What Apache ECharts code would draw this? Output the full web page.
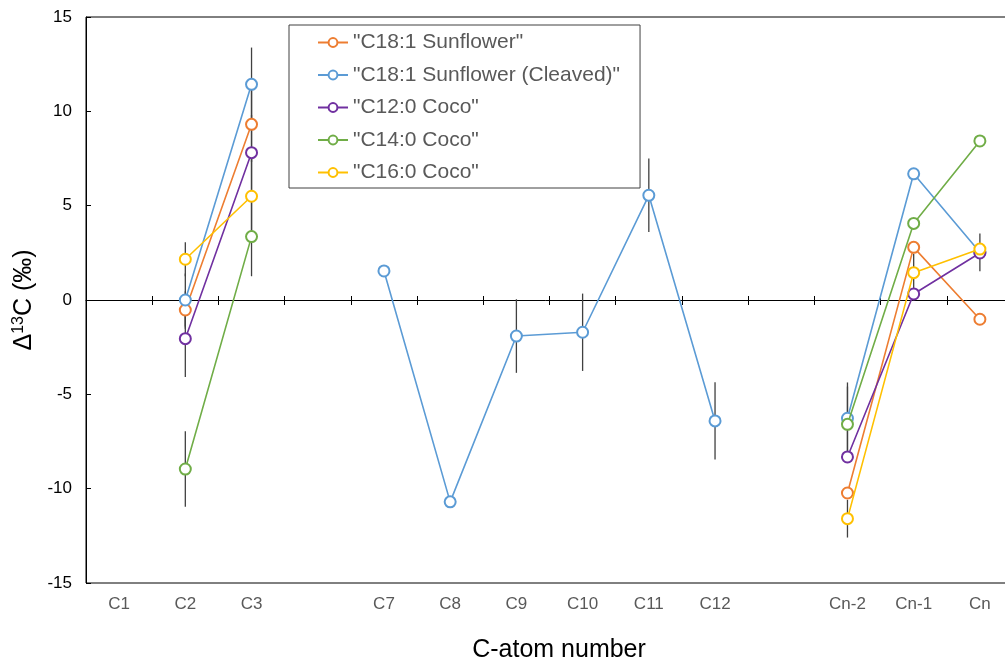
<!DOCTYPE html>
<html>
<head>
<meta charset="utf-8">
<script src="https://cdn.jsdelivr.net/npm/echarts@6/dist/echarts.min.js"></script>
<style>
  html, body { margin: 0; padding: 0; background: #fff; }
  #chart { width: 1005px; height: 665px; }
</style>
</head>
<body>
<div id="chart"></div>
<script>
// ---- data ----
const categories = ['C1', 'C2', 'C3', '', 'C7', 'C8', 'C9', 'C10', 'C11', 'C12', ' ', 'Cn-2', 'Cn-1', 'Cn'];
const seriesNames = ['"C18:1 Sunflower"', '"C18:1 Sunflower (Cleaved)"', '"C12:0 Coco"', '"C14:0 Coco"', '"C16:0 Coco"'];
const sunflower        = [null, -0.53, 9.31, null, null, null, null, null, null, null, null, -10.23, 2.79, -1.02];
const sunflowerCleaved = [null, 0.0, 11.43, null, 1.54, -10.7, -1.91, -1.71, 5.55, -6.41, null, -6.27, 6.69, 2.53];
const coco12           = [null, -2.05, 7.81, null, null, null, null, null, null, null, null, -8.32, 0.32, 2.49];
const coco14           = [null, -8.96, 3.36, null, null, null, null, null, null, null, null, -6.59, 4.06, 8.43];
const coco16           = [null, 2.16, 5.5, null, null, null, null, null, null, null, null, -11.59, 1.45, 2.70];
// error (± half-width) for each point
const sunflowerErr        = [null, 1.0, 2.0, null, null, null, null, null, null, null, null, 0.3, null, null];
const sunflowerCleavedErr = [null, 1.4, 1.95, null, null, null, 1.95, 2.05, 1.95, 2.05, null, 1.9, null, 1.0];
const coco12Err           = [null, 2.03, 2.0, null, null, null, null, null, null, null, null, 0.3, null, null];
const coco14Err           = [null, 2.0, 2.1, null, null, null, null, null, null, null, null, 2.0, null, null];
const coco16Err           = [null, 0.9, 2.0, null, null, null, null, null, null, null, null, 1.0, 1.0, null];
const yTicks = { min: -15, max: 15, interval: 5 };

const values = [sunflower, sunflowerCleaved, coco12, coco14, coco16];
const errors = [sunflowerErr, sunflowerCleavedErr, coco12Err, coco14Err, coco16Err];
const colors = ['#ED7D31', '#5B9BD5', '#7030A0', '#70AD47', '#FFC000'];

const errData = [];
values.forEach((vals, s) => {
  vals.forEach((v, i) => {
    const e = errors[s][i];
    if (v != null && e != null) errData.push([i, v - e, v + e]);
  });
});

const FONT = 'Liberation Sans, Arial, sans-serif';

const chart = echarts.init(document.getElementById('chart'));
const baseX = {
  type: 'category',
  data: categories,
  boundaryGap: true,
  axisLabel: { show: false },
  splitLine: { show: false }
};
const option = {
  animation: false,
  backgroundColor: '#fff',
  grid: {
    left: 86, top: 17, width: 927, height: 566,
    outerBoundsMode: 'none',
    show: true, borderColor: '#000', borderWidth: 1, containLabel: false
  },
  xAxis: [
    Object.assign({}, baseX, {
      position: 'bottom',
      axisLine: { show: false, onZero: false },
      axisTick: { show: false },
      axisLabel: { show: true, interval: 0, color: '#595959', fontSize: 17, fontFamily: FONT, margin: 13 }
    }),
    Object.assign({}, baseX, {
      position: 'bottom',
      axisLine: { show: true, onZero: true, onZeroAxisIndex: 0, lineStyle: { color: '#000', width: 1 } },
      axisTick: { show: true, interval: 0, length: 5, lineStyle: { color: '#000', width: 1 } }
    }),
    Object.assign({}, baseX, {
      position: 'top',
      axisLine: { show: false, onZero: true, onZeroAxisIndex: 0 },
      axisTick: { show: true, interval: 0, length: 4, lineStyle: { color: '#000', width: 1 } }
    })
  ],
  yAxis: {
    type: 'value',
    min: yTicks.min, max: yTicks.max, interval: yTicks.interval,
    axisLine: { show: true, onZero: false, lineStyle: { color: '#000', width: 1 } },
    axisTick: { show: true, inside: true, length: 5, lineStyle: { color: '#000' } },
    axisLabel: { color: '#000', fontSize: 17, fontFamily: FONT, margin: 14 },
    splitLine: { show: false }
  },
  legend: {
    orient: 'vertical',
    left: 289, top: 25,
    itemWidth: 30, itemHeight: 11, itemGap: 11.5,
    padding: [7, 20, 5, 28],
    borderColor: '#404040', borderWidth: 1, backgroundColor: '#fff',
    textStyle: { fontSize: 21, lineHeight: 21, color: '#595959', fontFamily: FONT },
    data: seriesNames
  },
  graphic: [
    {
      type: 'text', x: 24, y: 300, rotation: Math.PI / 2,
      style: {
        text: '{a|Δ}{s|13}{a|C (‰)}',
        rich: {
          a: { fontSize: 25, fontFamily: FONT, fill: '#000', lineHeight: 27 },
          s: { fontSize: 16, fontFamily: FONT, fill: '#000', verticalAlign: 'top', lineHeight: 27 }
        },
        align: 'center', verticalAlign: 'middle'
      }
    },
    {
      type: 'text', x: 559, y: 650,
      style: { text: 'C-atom number', fontSize: 25, fontFamily: FONT, fill: '#000', align: 'center', verticalAlign: 'middle' }
    }
  ],
  series: [
    {
      type: 'custom',
      name: 'errors',
      xAxisIndex: 0,
      z: 1,
      silent: true,
      encode: { x: 0, y: [1, 2] },
      renderItem: function (params, api) {
        const p1 = api.coord([api.value(0), api.value(1)]);
        const p2 = api.coord([api.value(0), api.value(2)]);
        return { type: 'line', shape: { x1: p1[0], y1: p1[1], x2: p2[0], y2: p2[1] }, style: { stroke: '#404040', lineWidth: 1.3 } };
      },
      data: errData
    }
  ].concat(values.map((vals, s) => ({
    type: 'line',
    name: seriesNames[s],
    xAxisIndex: 0,
    data: vals,
    z: 2 + s,
    connectNulls: false,
    symbol: 'emptyCircle',
    symbolSize: 11,
    showAllSymbol: true,
    lineStyle: { color: colors[s], width: 1.6 },
    itemStyle: { color: colors[s], borderColor: colors[s], borderWidth: 1.5 }
  })))
};
chart.setOption(option);
</script>
</body>
</html>
